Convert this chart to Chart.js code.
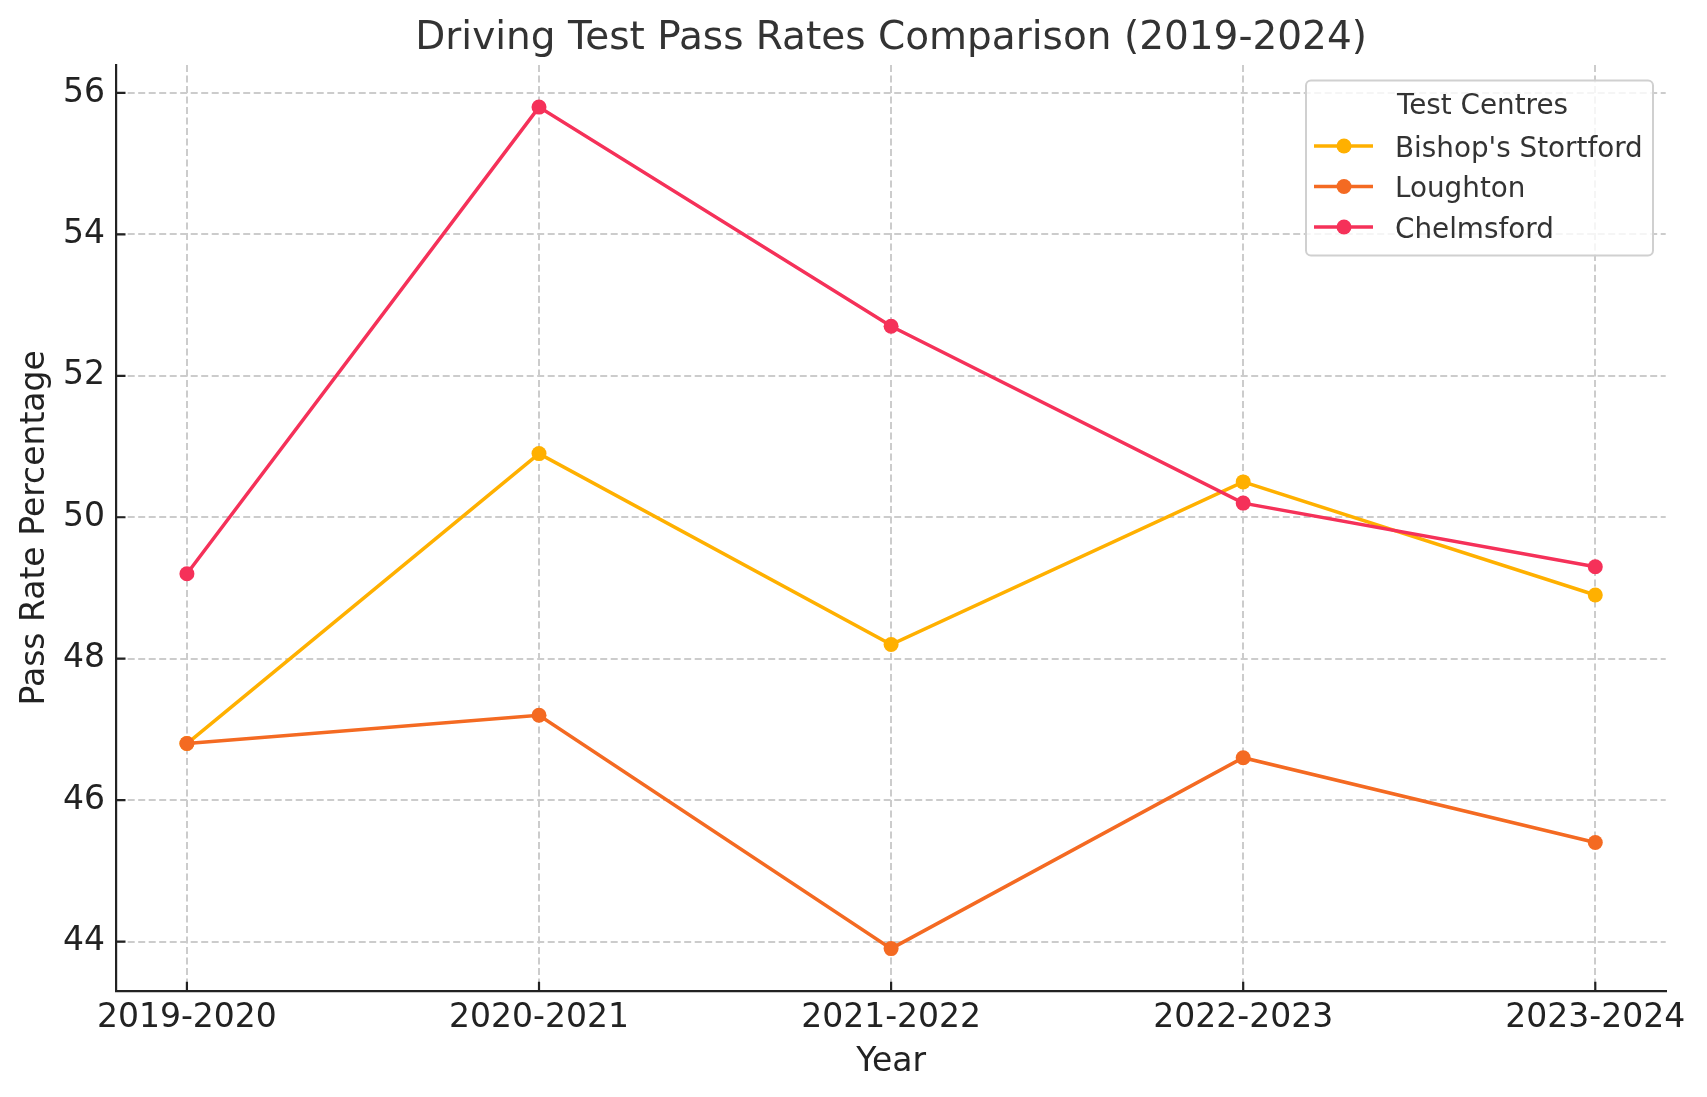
<!DOCTYPE html>
<html>
<head>
<meta charset="utf-8">
<title>Driving Test Pass Rates Comparison</title>
<script src="https://cdn.jsdelivr.net/npm/chart.js@4.4.1/dist/chart.umd.min.js"></script>
<style>
  html, body { margin: 0; padding: 0; background: #fff; }
  canvas { display: block; }
</style>
</head>
<body>
<canvas id="chart" width="1707" height="1097"></canvas>
<script>
// datos
const years = ['2019-2020', '2020-2021', '2021-2022', '2022-2023', '2023-2024'];
const bishopsStortford = [46.8, 50.9, 48.2, 50.5, 48.9];
const loughton = [46.8, 47.2, 43.9, 46.6, 45.4];
const chelmsford = [49.2, 55.8, 52.7, 50.2, 49.3];
const yTicks = [44, 46, 48, 50, 52, 54, 56];

const FONT = "'DejaVu Sans', sans-serif";
const toPoints = (arr) => arr.map((v, i) => ({ x: i, y: v }));

// ticks hacia dentro, como en matplotlib
const innerTicks = {
  id: 'innerTicks',
  afterDraw(chart) {
    const { ctx, chartArea: a, scales: { x, y } } = chart;
    ctx.save();
    ctx.strokeStyle = '#222';
    ctx.lineWidth = 2.2;
    ctx.beginPath();
    x.ticks.forEach((t) => {
      const px = x.getPixelForValue(t.value);
      ctx.moveTo(px, a.bottom); ctx.lineTo(px, a.bottom - 9);
    });
    y.ticks.forEach((t) => {
      const py = y.getPixelForValue(t.value);
      ctx.moveTo(a.left, py); ctx.lineTo(a.left + 9, py);
    });
    ctx.stroke();
    ctx.restore();
  },
};

// leyenda con caja, arriba a la derecha
const boxLegend = {
  id: 'boxLegend',
  afterDraw(chart) {
    const { ctx } = chart;
    const left = 1306, top = 80.5, w = 347, h = 175;
    ctx.save();
    ctx.fillStyle = 'rgba(255,255,255,0.8)';
    ctx.strokeStyle = '#d0d0d0';
    ctx.lineWidth = 2;
    ctx.beginPath();
    ctx.roundRect(left, top, w, h, 5);
    ctx.fill();
    ctx.stroke();

    ctx.font = `27.8px ${FONT}`;
    ctx.fillStyle = '#333';
    ctx.textBaseline = 'middle';
    ctx.textAlign = 'center';
    ctx.fillText('Test Centres', left + w / 2 + 3, 107);
    ctx.textAlign = 'left';
    chart.data.datasets.forEach((ds, i) => {
      const cy = 146 + i * 40.5;
      ctx.strokeStyle = ds.borderColor;
      ctx.lineWidth = 3.5;
      ctx.beginPath();
      ctx.moveTo(1314, cy); ctx.lineTo(1373, cy);
      ctx.stroke();
      ctx.fillStyle = ds.borderColor;
      ctx.beginPath();
      ctx.arc(1344, cy, 7.5, 0, Math.PI * 2);
      ctx.fill();
      ctx.fillStyle = '#333';
      ctx.fillText(ds.label, 1395, cy + 3.5);
    });
    ctx.restore();
  },
};

const gridStyle = {
  color: '#cccccc',
  lineWidth: 2,
  drawTicks: false,
};

new Chart(document.getElementById('chart'), {
  type: 'line',
  data: {
    datasets: [
      { label: "Bishop's Stortford", data: toPoints(bishopsStortford), borderColor: '#ffb000', backgroundColor: '#ffb000', order: 3 },
      { label: 'Loughton', data: toPoints(loughton), borderColor: '#f46a22', backgroundColor: '#f46a22', order: 2 },
      { label: 'Chelmsford', data: toPoints(chelmsford), borderColor: '#f53159', backgroundColor: '#f53159', order: 1 },
    ],
  },
  options: {
    responsive: false,
    animation: false,
    devicePixelRatio: 1,
    layout: { padding: { left: 0, right: 41.3, top: 0, bottom: 0 } },
    elements: {
      line: { borderWidth: 3.5, tension: 0 },
      point: { radius: 7.5, borderWidth: 0, hoverRadius: 7.5 },
    },
    plugins: {
      legend: { display: false },
      tooltip: { enabled: false },
      title: {
        display: true,
        text: 'Driving Test Pass Rates Comparison (2019-2024)',
        color: '#333',
        fullSize: false,
        font: { family: FONT, size: 39, weight: 'normal', lineHeight: 1.2 },
        padding: { top: 15, bottom: 3.2 },
      },
    },
    scales: {
      x: {
        type: 'linear',
        min: -0.2,
        max: 4.2,
        afterBuildTicks: (s) => { s.ticks = years.map((_, i) => ({ value: i })); },
        afterFit: (s) => { s.height = 106.3; },
        ticks: {
          callback: (v) => years[v] ?? '',
          color: '#222',
          padding: 8,
          maxRotation: 0,
          autoSkip: false,
          font: { family: FONT, size: 33 },
        },
        grid: { ...gridStyle },
        border: { display: true, color: '#222', width: 2.2, dash: [7, 3.5] },
        title: {
          display: true,
          text: 'Year',
          color: '#222',
          font: { family: FONT, size: 33 },
          padding: { top: 0, bottom: 15 },
        },
      },
      y: {
        type: 'linear',
        min: 43.305,
        max: 56.395,
        afterBuildTicks: (s) => { s.ticks = yTicks.map((v) => ({ value: v })); },
        afterFit: (s) => { s.width = 116.5; },
        ticks: {
          color: '#222',
          padding: 11.5,
          font: { family: FONT, size: 33 },
        },
        grid: { ...gridStyle },
        border: { display: true, color: '#222', width: 2.2, dash: [7, 3.5] },
        title: {
          display: true,
          text: 'Pass Rate Percentage',
          color: '#222',
          font: { family: FONT, size: 33 },
          padding: { top: 16, bottom: 0 },
        },
      },
    },
  },
  plugins: [innerTicks, boxLegend],
});
</script>
</body>
</html>
